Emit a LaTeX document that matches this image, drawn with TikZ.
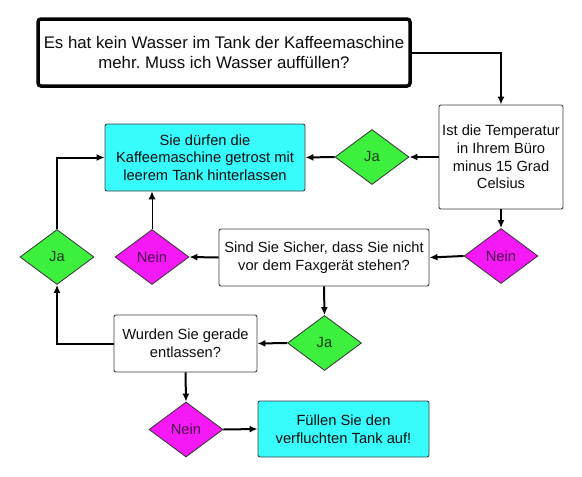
\documentclass[tikz,border=0pt]{standalone}
\usepackage{fontspec}
\setmainfont{Liberation Sans}
\usetikzlibrary{arrows.meta,shapes.geometric}
\frenchspacing

\definecolor{cyanbox}{HTML}{38FCFC}
\definecolor{jagruen}{HTML}{3EF03E}
\definecolor{neinlila}{HTML}{F51AF5}
\definecolor{jatext}{HTML}{1E3A1E}
\definecolor{neintext}{HTML}{4A0A4A}

\begin{document}
\begin{tikzpicture}[x=1pt,y=-1pt,
    box/.style={draw=black!75, line width=0.9pt, rounded corners=2pt, align=center,
        text=black!95, inner sep=0pt, font=\fontsize{14.7}{17.7}\selectfont},
    ende/.style={box, fill=cyanbox},
    raute/.style={diamond, draw=black!80, line width=0.8pt, inner sep=0pt,
        minimum width=74pt, minimum height=55pt, font=\fontsize{14.7}{17}\selectfont},
    ja/.style={raute, fill=jagruen, text=jatext},
    nein/.style={raute, fill=neinlila, text=neintext},
    pfeil/.style={line width=2pt, -{Latex[length=8pt,width=7pt]}},
]
    % 背景和边界
    \fill[white] (0,0) rectangle (582,477);
    \useasboundingbox (0,0) rectangle (582,477);

    % 定义中心点
    \coordinate (P1) at (224,52.5);
    \coordinate (P2) at (501,157);
    \coordinate (P3) at (205,157.5);
    \coordinate (P4) at (372,157);
    \coordinate (P5) at (501,256);
    \coordinate (P6) at (324,257.5);
    \coordinate (P7) at (152,257);
    \coordinate (P8) at (57,257);
    \coordinate (P9) at (324.5,343);
    \coordinate (P10) at (185.5,343.5);
    \coordinate (P11) at (186,429.5);
    \coordinate (P12) at (343.5,429);

    % 方框
    \node[box, draw=black, line width=3.5pt, rounded corners=3pt, minimum width=372pt,
        minimum height=67pt, font=\fontsize{16.8}{20.5}\selectfont] (frage) at (P1)
        {Es hat kein Wasser im Tank der Kaffeemaschine\\mehr. Muss ich Wasser auffüllen?};
    \node[box, minimum width=124pt, minimum height=104pt] (temp) at (P2)
        {Ist die Temperatur\\in Ihrem Büro\\minus 15 Grad\\Celsius};
    \node[ende, minimum width=200pt, minimum height=67pt] (leer) at (P3)
        {Sie dürfen die\\Kaffeemaschine getrost mit\\leerem Tank hinterlassen};
    \node[box, minimum width=210pt, minimum height=57pt] (sicher) at (P6)
        {Sind Sie Sicher, dass Sie nicht\\vor dem Faxgerät stehen?};
    \node[box, minimum width=143pt, minimum height=57pt] (wurden) at (P10)
        {Wurden Sie gerade\\entlassen?};
    \node[ende, minimum width=171pt, minimum height=56pt] (fuellen) at (P12)
        {Füllen Sie den\\verfluchten Tank auf!};

    % 菱形
    \node[ja] (jaA) at (P4) {Ja};
    \node[nein] (neinA) at (P5) {Nein};
    \node[nein] (neinB) at (P7) {Nein};
    \node[ja] (jaB) at (P8) {Ja};
    \node[ja] (jaC) at (P9) {Ja};
    \node[nein] (neinC) at (P11) {Nein};

    % 连线
    \draw[pfeil] (frage.east) -| (temp.north);
    \draw[pfeil] (temp.west) -- (jaA.east);
    \draw[pfeil] (jaA.west) -- (leer.east);
    \draw[pfeil] (temp.south) -- (neinA.north);
    \draw[pfeil] (neinA.west) -- (sicher.east);
    \draw[pfeil] (sicher.west) -- (neinB.east);
    \draw[pfeil, line width=1pt] (neinB.north) -- (neinB.north |- leer.south);
    \draw[pfeil] (jaB.north) |- (leer.west);
    \draw[pfeil] (sicher.south) -- (jaC.north);
    \draw[pfeil] (jaC.west) -- (wurden.east);
    \draw[pfeil] (wurden.west) -| (jaB.south);
    \draw[pfeil] (wurden.south) -- (neinC.north);
    \draw[pfeil] (neinC.east) -- (fuellen.west);

\end{tikzpicture}
\end{document}
